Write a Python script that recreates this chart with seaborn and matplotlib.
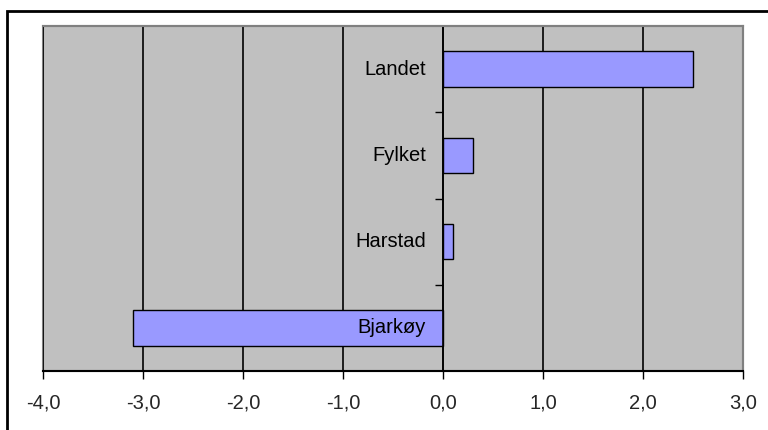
"""
Horizontal bar chart: change by area (Landet, Fylket, Harstad, Bjarkøy).
"""

import matplotlib.pyplot as plt
import matplotlib.ticker as mticker
from matplotlib.patches import Rectangle
from matplotlib.transforms import offset_copy
import seaborn as sns
import numpy as np
import pandas as pd

# Data
categories = ['Landet', 'Fylket', 'Harstad', 'Bjarkøy']
values = [2.5, 0.3, 0.1, -3.1]
x_ticks = np.arange(-4, 4)

df = pd.DataFrame({'area': categories, 'value': values})

sns.set_style("white")
plt.rcParams['font.family'] = ['Liberation Sans', 'DejaVu Sans']

fig = plt.figure(figsize=(7.68, 4.30), dpi=100)
ax = fig.add_axes([43 / 768, 1 - 371 / 430, 700 / 768, 345 / 430])
ax.set_facecolor('#C0C0C0')

# Vertical gridlines
ax.set_axisbelow(True)
ax.xaxis.grid(True, color='black', linewidth=1.2)
ax.yaxis.grid(False)

sns.barplot(data=df, x='value', y='area', orient='h', color='#9999FF',
            saturation=1, edgecolor='black', linewidth=1, width=0.41, ax=ax)

ax.set_xlim(-4, 3)
ax.set_ylim(len(categories) - 0.5, -0.5)
ax.set_xticks(x_ticks)
ax.xaxis.set_major_formatter(
    mticker.FuncFormatter(lambda v, p: f'{v:.1f}'.replace('.', ',')))
ax.tick_params(axis='x', direction='out', length=6, width=1, color='black',
               labelsize=14.5, pad=10, bottom=True)

# Y axis drawn at zero, ticks at category boundaries
ax.spines['left'].set_position(('data', 0))
ax.spines['left'].set_color('black')
ax.spines['left'].set_linewidth(1.2)
ax.set_yticks(np.arange(len(categories) - 1) + 0.5)
ax.set_yticklabels([])
ax.tick_params(axis='y', direction='out', length=6, width=1, color='black', left=True)
ax.set_xlabel('')
ax.set_ylabel('')

ax.spines['bottom'].set_color('black')
ax.spines['bottom'].set_linewidth(1.5)
for side in ['top', 'right']:
    ax.spines[side].set_color('#808080')
    ax.spines[side].set_linewidth(1.5)

# Gray border on the left of the plot area
ax.add_patch(Rectangle((0, 0), 1, 1, transform=ax.transAxes, fill=False,
                       edgecolor='#808080', linewidth=1.5, zorder=0.5, clip_on=False))

# Category labels next to the zero axis
label_tr = offset_copy(ax.transData, fig=fig, x=-17, y=0, units='dots')
for i, name in enumerate(categories):
    ax.text(0, i, name, transform=label_tr, ha='right', va='center',
            fontsize=14.5, color='black', zorder=5)

# Outer chart border
fig.patches.append(Rectangle((7 / 768, -0.1), 1.1, 1 - 11 / 430 + 0.1,
                             transform=fig.transFigure, fill=False,
                             edgecolor='black', linewidth=2))

fig.savefig('out.png', dpi=100)
